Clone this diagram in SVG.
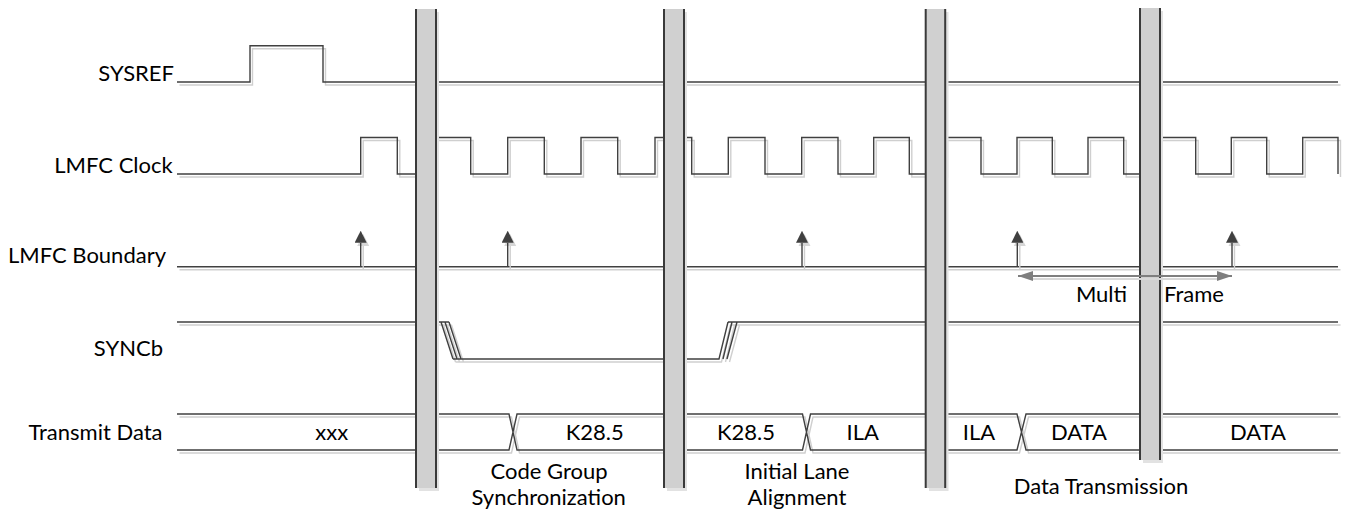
<svg xmlns="http://www.w3.org/2000/svg" xmlns:xlink="http://www.w3.org/1999/xlink" width="1358" height="511" viewBox="0 0 1358 511">
<style>
.sig{fill:none;stroke:#404040;stroke-width:1.4}
.sh{fill:none;stroke:#cfcfcf;stroke-width:1.4}
.lbl{font-family:Lato,"Liberation Sans",sans-serif;font-size:22px;fill:#000}
.mid{text-anchor:middle}
.end{text-anchor:end}
.barfill{fill:#d0d0d0}
.barsh{fill:#e2e2e2}
.baredge{stroke:#3a3a3a;stroke-width:2;fill:none}
.bnd{fill:none;stroke:#404040;stroke-width:1.4}
.mf{fill:none;stroke:#7f7f7f;stroke-width:2}
</style>
<defs>
<marker id="upHead" viewBox="0 0 12 12" markerWidth="12" markerHeight="12" refX="0" refY="6" markerUnits="userSpaceOnUse" orient="auto">
<path d="M0 0 L12 6 L0 12 Z" fill="#404040"/>
</marker>
<marker id="mfHead" viewBox="0 0 15 10" markerWidth="15" markerHeight="10" refX="15" refY="5" markerUnits="userSpaceOnUse" orient="auto-start-reverse">
<path d="M0 0 L15 5 L0 10 Z" fill="#7f7f7f"/>
</marker>
<path id="p-sysref" d="M177 82 H250 V45.7 H323 V82 H1338"/>
<path id="p-clk" d="M177 174 H360.7 V137.5 H397.3 V174 H434 V137.5 H470.7 V174 H507.7 V137.5 H544.3 V174 H581 V137.5 H617.7 V174 H655 V137.5 H691.7 V174 H728.3 V137.5 H765 V174 H801.7 V137.5 H838 V174 H873.7 V137.5 H909.3 V174 H945 V137.5 H981 V174 H1017 V137.5 H1052.3 V174 H1088 V137.5 H1123.7 V174 H1159.5 V137.5 H1195.7 V174 H1231.3 V137.5 H1266.7 V174 H1302.7 V137.5 H1338 V174"/>
<path id="p-bnd" d="M177 266.7 H1338"/>
<path id="p-sync" d="M177 322 H441 L453 359 M445 322 L457 359 M449 322 H441 M449 322 L461 359 M453 359 H719 L728 322 M723 359 L732 322 M727 359 L737 322 M728 322 H1338"/>
<path id="p-bus" d="M177 414 H509 L517 450 H802.5 L810.5 414 H1017 L1026 450 H1338 M177 450 H509 L517 414 H802.5 L810.5 450 H1017 L1026 414 H1338"/>
</defs>

<g id="sysref">
<use xlink:href="#p-sysref" class="sh" transform="translate(2.5,3)"/>
<use xlink:href="#p-sysref" class="sig"/>
<text class="lbl end" x="174" y="81">SYSREF</text>
</g>

<g id="lmfc-clock">
<use xlink:href="#p-clk" class="sh" transform="translate(2.5,3)"/>
<use xlink:href="#p-clk" class="sig"/>
<text class="lbl end" x="172.7" y="173">LMFC Clock</text>
</g>

<g id="lmfc-boundary">
<use xlink:href="#p-bnd" class="sh" transform="translate(2.5,3)"/>
<use xlink:href="#p-bnd" class="sig"/>
<text class="lbl end" x="166" y="263.3">LMFC Boundary</text>
</g>

<g id="syncb">
<use xlink:href="#p-sync" class="sh" transform="translate(2.5,3)"/>
<use xlink:href="#p-sync" class="sig"/>
<text class="lbl end" x="163" y="356">SYNCb</text>
</g>

<g id="transmit-data">
<use xlink:href="#p-bus" class="sh" transform="translate(2.5,3)"/>
<use xlink:href="#p-bus" class="sig"/>
<text class="lbl end" x="162.5" y="440">Transmit Data</text>
<text class="lbl mid" x="331.7" y="440">xxx</text>
<text class="lbl mid" x="594.8" y="440">K28.5</text>
<text class="lbl mid" x="746" y="440">K28.5</text>
<text class="lbl mid" x="862.8" y="440">ILA</text>
<text class="lbl mid" x="979" y="440">ILA</text>
<text class="lbl mid" x="1079" y="440">DATA</text>
<text class="lbl mid" x="1258" y="440">DATA</text>
</g>

<g id="connectors">
<g id="boundary-arrows">
<path class="sh" d="M363.2 269.7 V246 M510.2 269.7 V246 M804.5 269.7 V246 M1019.8 269.7 V246 M1234.5 269.7 V246"/>
<path d="M363.2 234 l6 12 h-12 Z M510.2 234 l6 12 h-12 Z M804.5 234 l6 12 h-12 Z M1019.8 234 l6 12 h-12 Z M1234.5 234 l6 12 h-12 Z" fill="#d6d6d6"/>
<path class="bnd" d="M360.7 266.7 V242.7" marker-end="url(#upHead)"/>
<path class="bnd" d="M507.7 266.7 V242.7" marker-end="url(#upHead)"/>
<path class="bnd" d="M802 266.7 V242.7" marker-end="url(#upHead)"/>
<path class="bnd" d="M1017.3 266.7 V242.7" marker-end="url(#upHead)"/>
<path class="bnd" d="M1232 266.7 V242.7" marker-end="url(#upHead)"/>
</g>
</g>

<g id="bar-1">
<rect class="barsh" x="419" y="12" width="20" height="479"/>
<rect class="barfill" x="416" y="9" width="20" height="479"/>
<path class="baredge" d="M416 9 V488 M436 9 V488"/>
</g>
<g id="bar-2">
<rect class="barsh" x="667" y="12" width="20" height="479"/>
<rect class="barfill" x="664" y="9" width="20" height="479"/>
<path class="baredge" d="M664 9 V488 M684 9 V488"/>
</g>
<g id="bar-3">
<rect class="barsh" x="929" y="12" width="19.5" height="479"/>
<rect class="barfill" x="925.7" y="9" width="19.5" height="479"/>
<path class="baredge" d="M925.7 9 V488 M945.2 9 V488"/>
</g>
<g id="bar-4">
<rect class="barsh" x="1143" y="11" width="20" height="452"/>
<rect class="barfill" x="1140" y="8" width="20" height="452"/>
<path class="baredge" d="M1140 8 V460 M1160 8 V460"/>
</g>

<g id="multi-frame">
<path d="M1033 279 H1220" fill="none" stroke="#d8d8d8" stroke-width="2"/>
<path class="mf" d="M1018 276 H1232" marker-start="url(#mfHead)" marker-end="url(#mfHead)"/>
<text class="lbl mid" x="1101.5" y="301.7">Multi</text>
<text class="lbl mid" x="1194" y="301.7">Frame</text>
</g>

<g id="phase-labels">
<text class="lbl mid" x="549" y="479">Code Group</text>
<text class="lbl mid" x="548.7" y="505">Synchronization</text>
<text class="lbl mid" x="797" y="479">Initial Lane</text>
<text class="lbl mid" x="797" y="505">Alignment</text>
<text class="lbl mid" x="1101" y="494">Data Transmission</text>
</g>
</svg>
